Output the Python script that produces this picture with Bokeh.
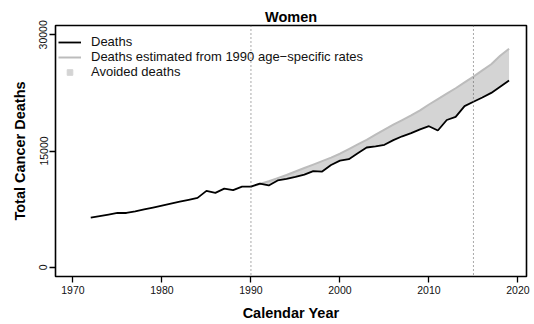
from bokeh.plotting import figure
from bokeh.models import (ColumnDataSource, Range1d, FixedTicker, Span, Legend,
                          LegendItem)
from bokeh.embed import file_html
from bokeh.resources import INLINE

# Observed total cancer deaths among women, by calendar year
years = list(range(1972, 2020))
deaths = [
    6400, 6600, 6800, 7000, 7000, 7200, 7450, 7700, 7950, 8200,      # 1972-1981
    8450, 8700, 8950, 9850, 9600, 10150, 9950, 10400, 10400, 10800,  # 1982-1991
    10550, 11200, 11400, 11650, 11950, 12400, 12350, 13200, 13750,   # 1992-2000
    13950, 14700, 15450, 15600, 15800, 16400, 16900, 17300, 17800,   # 2001-2009
    18200, 17650, 19000, 19400, 20800, 21350, 21900, 22500, 23300,   # 2010-2018
    24100,                                                           # 2019
]

# Deaths expected had the 1990 age-specific rates held
exp_years = list(range(1990, 2020))
expected = [
    10400, 10750, 11100, 11500, 11900, 12350, 12800, 13250, 13700, 14150,
    14650, 15250, 15850, 16450, 17100, 17750, 18400, 19000, 19600, 20250,
    21000, 21700, 22400, 23100, 23850, 24600, 25400, 26200, 27300, 28200,
]

reference_years = [1990, 2015]
x_ticks = [1970, 1980, 1990, 2000, 2010, 2020]
y_ticks = [0, 15000, 30000]

FONT = "Liberation Sans"
BAND = "#d4d4d4"

obs = ColumnDataSource(dict(year=years, deaths=deaths))
post = ColumnDataSource(dict(
    year=exp_years,
    expected=expected,
    deaths=deaths[years.index(1990):],
))

p = figure(
    width=534, height=324,
    x_range=Range1d(1968.04, 2020.96),
    y_range=Range1d(-1200, 31200),
    output_backend="svg", toolbar_location=None,
    min_border_left=55, min_border_right=8,
    min_border_top=25, min_border_bottom=48,
    title="Women",
)
# a range that keeps the legend-key markers outside the frame
p.extra_y_ranges = {"key": Range1d(0, 1)}

p.title.align = "center"
p.title.text_font = FONT
p.title.text_font_size = "14.5px"
p.title.text_font_style = "bold"
p.title.text_color = "black"
p.title.standoff = 2
p.title.offset = 0

p.background_fill_color = "white"
p.border_fill_color = "white"
p.outline_line_color = "black"
p.outline_line_width = 1.6
p.grid.visible = False

for ax in (p.xaxis[0], p.yaxis[0]):
    ax.axis_line_color = None
    ax.minor_tick_line_color = None
    ax.major_tick_line_color = "black"
    ax.major_tick_line_width = 1.3
    ax.major_tick_out = 6
    ax.major_tick_in = 0
    ax.major_label_text_font = FONT
    ax.major_label_text_font_size = "10.5px"
    ax.major_label_text_color = "#111111"
    ax.axis_label_text_font = FONT
    ax.axis_label_text_font_size = "14.5px"
    ax.axis_label_text_font_style = "bold"
    ax.axis_label_text_color = "black"

p.xaxis.ticker = FixedTicker(ticks=x_ticks)
p.xaxis.axis_label = "Calendar Year"
p.xaxis.major_label_standoff = 3
p.xaxis.axis_label_standoff = 8

p.yaxis.ticker = FixedTicker(ticks=y_ticks)
p.yaxis.axis_label = "Total Cancer Deaths"
p.yaxis.major_label_orientation = "vertical"
p.yaxis.major_label_standoff = 2
p.yaxis.axis_label_standoff = 9

# Avoided deaths: the gap between expected and observed
band = p.varea(x="year", y1="deaths", y2="expected", source=post,
               fill_color=BAND)
exp_line = p.line(x="year", y="expected", source=post,
                  line_color="#bcbcbc", line_width=2)
obs_line = p.line(x="year", y="deaths", source=obs,
                  line_color="black", line_width=1.8)

for yr in reference_years:
    p.add_layout(Span(location=yr, dimension="height", line_color="#555555",
                      line_width=1, line_dash="1 3"))

# Small square key for the shaded band (its points fall outside the frame)
swatch = p.scatter(x="year", y="expected", source=post, y_range_name="key",
                   marker="square", size=6,
                   fill_color=BAND, line_color=BAND)

legend = Legend(items=[
    LegendItem(label="Deaths", renderers=[obs_line]),
    LegendItem(label="Deaths estimated from 1990 age\u2212specific rates",
               renderers=[exp_line]),
    LegendItem(label="Avoided deaths", renderers=[swatch]),
], location=(3, 197))
legend.border_line_color = None
legend.background_fill_alpha = 0
legend.padding = 3
legend.margin = 0
legend.spacing = 0
legend.glyph_width = 23
legend.glyph_height = 14
legend.label_height = 14
legend.label_standoff = 10
legend.label_text_font = FONT
legend.label_text_font_size = "13px"
legend.label_text_color = "#111111"
p.add_layout(legend)

open("out.html", "w").write(file_html(p, INLINE))
